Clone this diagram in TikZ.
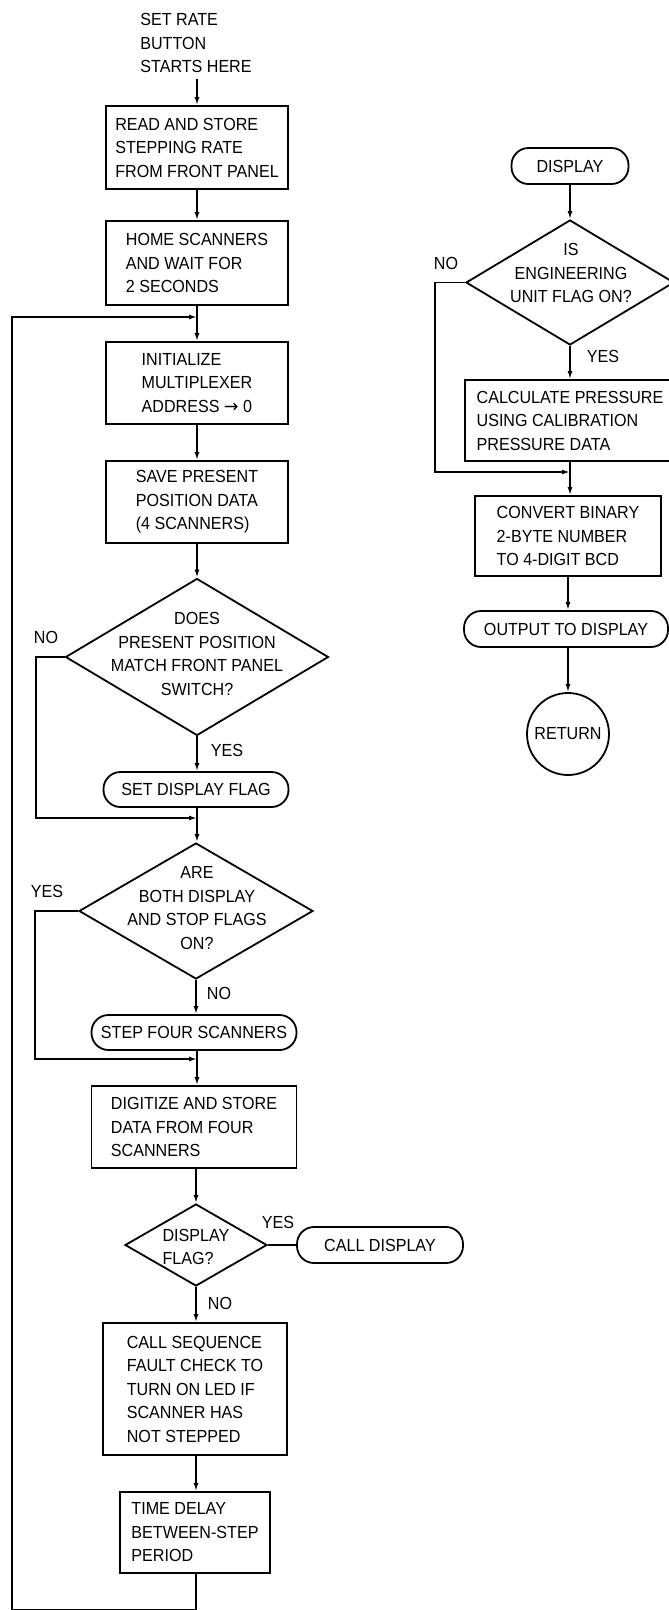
\documentclass[tikz,border=0pt]{standalone}
\usepackage{fontspec}
\setmainfont{Liberation Sans}[FakeStretch=0.92]
\newfontfamily\djv{DejaVu Sans}
\usetikzlibrary{shapes.geometric,arrows.meta}
\begin{document}
\begin{tikzpicture}[x=1pt,y=-1pt,
  every node/.style={font=\fontsize{17.5}{23.5}\selectfont},
  ln/.style={line width=1.8pt},
  arr/.style={ln,-{Latex[length=8pt,width=5pt]}},
  box/.style={draw,ln,rectangle,inner sep=0pt,align=left},
  term/.style={draw,ln,rectangle,rounded corners=17pt,inner sep=0pt,align=center},
  dia/.style={draw,ln,diamond,inner sep=0pt},
  txt/.style={inner sep=0pt,align=center},
  lab/.style={inner sep=0pt}]
\useasboundingbox (0,0) rectangle (669,1610);

% ---------- main column ----------
\node[txt,align=left] (start) at (196,43) {SET RATE\\BUTTON\\STARTS HERE};
\node[box,minimum width=182pt,minimum height=83pt] (b1) at (197,147.5) {READ AND STORE\\STEPPING RATE\\FROM FRONT PANEL};
\node[box,minimum width=182pt,minimum height=84pt] (b2) at (197,263) {HOME SCANNERS\\AND WAIT FOR\\2 SECONDS};
\coordinate (j1) at (197,317);
\node[box,minimum width=182pt,minimum height=82pt] (b3) at (197,383) {INITIALIZE\\MULTIPLEXER\\ADDRESS {\djv →} 0};
\node[box,minimum width=182pt,minimum height=82pt] (b4) at (197,502) {SAVE PRESENT\\POSITION DATA\\(4 SCANNERS)};
\node[dia,minimum width=263pt,minimum height=157pt] (d1) at (197,657) {};
\node[txt] (d1t) at (197,654) {DOES\\PRESENT POSITION\\MATCH FRONT PANEL\\SWITCH?};
\node[lab] (no1) at (46,637) {NO};
\node[lab] (yes1) at (227,750) {YES};
\node[term,minimum width=185pt,minimum height=35pt] (t1) at (196,789.5) {SET DISPLAY FLAG};
\coordinate (j2) at (197,818);
\node[dia,minimum width=234pt,minimum height=136pt] (d2) at (196,911) {};
\node[txt] (d2t) at (197,908) {ARE\\BOTH DISPLAY\\AND STOP FLAGS\\ON?};
\node[lab] (yes2) at (47,891) {YES};
\node[lab] (no2) at (219,993) {NO};
\node[term,minimum width=205pt,minimum height=35pt] (t2) at (194,1032.5) {STEP FOUR SCANNERS};
\coordinate (j3) at (197,1059);
\node[box,minimum width=205pt,minimum height=82pt] (b5) at (194,1127) {DIGITIZE AND STORE\\DATA FROM FOUR\\SCANNERS};
\node[dia,minimum width=142pt,minimum height=82pt] (d3) at (196,1245) {};
\node[txt,align=left] (d3t) at (196,1247) {DISPLAY\\FLAG?};
\node[lab] (yes3) at (278,1222) {YES};
\node[term,minimum width=166pt,minimum height=36pt] (t3) at (380,1245) {CALL DISPLAY};
\node[lab] (no3) at (220,1303) {NO};
\node[box,minimum width=184pt,minimum height=132pt] (b6) at (195,1389) {CALL SEQUENCE\\FAULT CHECK TO\\TURN ON LED IF\\SCANNER HAS\\NOT STEPPED};
\node[box,minimum width=150pt,minimum height=81pt] (b7) at (195,1532.5) {TIME DELAY\\BETWEEN-STEP\\PERIOD};
\coordinate (bl) at (12,1610);

\draw[arr,shorten <=6pt] (start.south -| b1.north) -- (b1.north);
\draw[arr] (b1) -- (b2);
\draw[arr] (b2.south -| j1) -- (b3.north -| j1);
\draw[arr] (b3) -- (b4);
\draw[arr] (b4.south -| d1.north) -- (d1.north);
\draw[arr] (d1.south) -- (t1.north -| d1.south);
\draw[arr] (d1.west) -- ++(-29,0) |- (j2);
\draw[arr] (t1.south -| j2) -- (d2.north -| j2);
\draw[arr] (d2.south) -- (t2.north -| d2.south);
\draw[arr] (d2.west) -- ++(-43,0) |- (j3);
\draw[arr] (t2.south -| j3) -- (b5.north -| j3);
\draw[arr] (b5.south -| d3.north) -- (d3.north);
\draw[ln] (d3.east) -- (t3.west);
\draw[arr] (d3.south) -- (b6.north -| d3.south);
\draw[arr] (b6.south -| d3.south) -- (b7.north -| d3.south);
\draw[arr] (b7.south -| d3.south) |- (bl) |- (j1);

% ---------- right column ----------
\node[term,minimum width=117pt,minimum height=36pt] (r1) at (570,166) {DISPLAY};
\node[dia,minimum width=208pt,minimum height=125pt] (rd) at (570,282.5) {};
\node[txt] (rdt) at (571,273) {IS\\ENGINEERING\\UNIT FLAG ON?};
\node[lab] (no4) at (446,263) {NO};
\node[lab] (yes4) at (603,356) {YES};
\node[box,minimum width=210pt,minimum height=81pt] (r2) at (570,420.5) {CALCULATE PRESSURE\\USING CALIBRATION\\PRESSURE DATA};
\coordinate (jr) at (570,472);
\node[box,minimum width=186pt,minimum height=80pt] (r3) at (568,536) {CONVERT BINARY\\2-BYTE NUMBER\\TO 4-DIGIT BCD};
\node[term,minimum width=204pt,minimum height=36pt] (r4) at (566,629) {OUTPUT TO DISPLAY};
\node[draw,ln,circle,inner sep=0pt,minimum size=82pt] (r5) at (568,734) {RETURN};

\draw[arr] (r1.south -| rd.north) -- (rd.north);
\draw[arr] (rd.south) -- (r2.north -| rd.south);
\draw[arr] (rd.west) -- ++(-30,0) |- (jr);
\draw[arr] (r2.south -| jr) -- (r3.north -| jr);
\draw[arr] (r3.south -| r5.north) -- (r4.north -| r5.north);
\draw[arr] (r4.south -| r5.north) -- (r5.north);
\end{tikzpicture}
\end{document}
